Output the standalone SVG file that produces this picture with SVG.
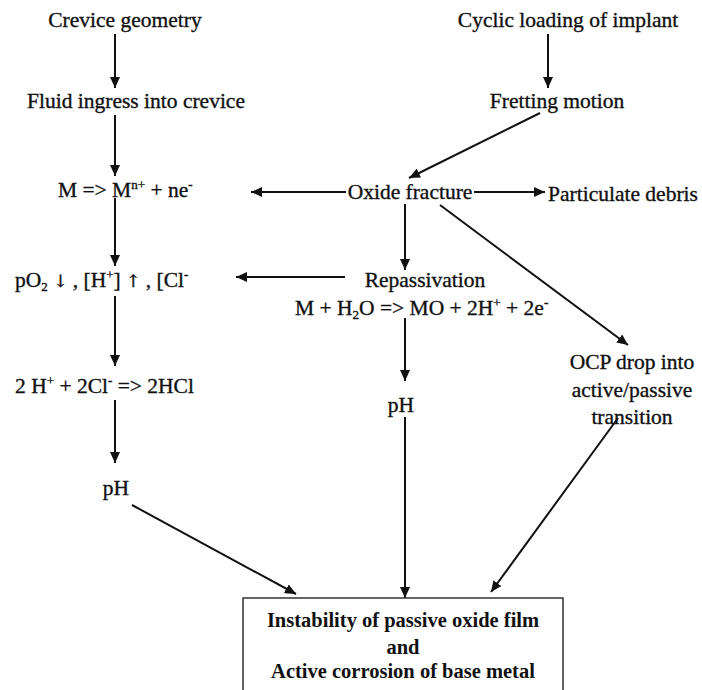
<svg xmlns="http://www.w3.org/2000/svg" width="702" height="690" viewBox="0 0 702 690">
<defs>
<marker id="ah" markerUnits="userSpaceOnUse" markerWidth="12" markerHeight="10" refX="11" refY="5" orient="auto">
<path d="M0,0 L11,5 L0,10 z" fill="#111"/>
</marker>
<style>
.t{font-family:"Liberation Serif","Times New Roman",serif;font-size:21.5px;fill:#111;stroke:#111;stroke-width:0.35}
.tc{text-anchor:middle}
.b{font-family:"Liberation Serif","Times New Roman",serif;font-size:20.5px;font-weight:bold;fill:#111;text-anchor:middle}
.sm{font-size:13px}
.ar{font-family:"DejaVu Serif","Liberation Serif",serif;font-size:17px}
.c{stroke:#111;stroke-width:2;fill:none}
.a{marker-end:url(#ah)}
</style>
</defs>
<rect width="702" height="690" fill="#fff"/>
<g id="connectors">
<line class="c a" x1="115" y1="34" x2="115" y2="88"/>
<line class="c a" x1="548" y1="34" x2="548" y2="88"/>
<line class="c a" x1="115" y1="115" x2="115" y2="176"/>
<line class="c a" x1="540" y1="113" x2="409" y2="178"/>
<line class="c a" x1="346" y1="192" x2="251" y2="192"/>
<line class="c a" x1="474" y1="192" x2="545" y2="192"/>
<line class="c a" x1="405" y1="204" x2="405" y2="270"/>
<line class="c a" x1="345" y1="277" x2="236" y2="277"/>
<line class="c a" x1="115" y1="198" x2="115" y2="266"/>
<line class="c a" x1="405" y1="318" x2="405" y2="381"/>
<line class="c a" x1="440" y1="205" x2="628" y2="345"/>
<line class="c a" x1="115" y1="296" x2="115" y2="366"/>
<line class="c a" x1="115" y1="400" x2="115" y2="463"/>
<line class="c a" x1="405" y1="417" x2="405" y2="598"/>
<line class="c a" x1="132" y1="505" x2="296" y2="594"/>
<line class="c a" x1="618" y1="418" x2="491" y2="592"/>
</g>
<g id="crevice"><text class="t tc" x="125" y="27">Crevice geometry</text></g>
<g id="cyclic"><text class="t tc" x="568" y="27">Cyclic loading of implant</text></g>
<g id="fluid"><text class="t tc" x="136" y="108">Fluid ingress into crevice</text></g>
<g id="fretting"><text class="t tc" x="557" y="108">Fretting motion</text></g>
<g id="dissolution"><text class="t" x="58" y="197">M =&gt; M<tspan class="sm" dy="-8">n+</tspan><tspan dy="8"> + ne</tspan><tspan class="sm" dy="-8">-</tspan></text></g>
<g id="oxide"><text class="t tc" x="410" y="199">Oxide fracture</text></g>
<g id="debris"><text class="t tc" x="623" y="201">Particulate debris</text></g>
<g id="repass"><text class="t tc" x="425" y="287">Repassivation</text>
<text class="t" x="295" y="315">M + H<tspan class="sm" dy="4">2</tspan><tspan dy="-4">O =&gt; MO + 2H</tspan><tspan class="sm" dy="-8">+</tspan><tspan dy="8"> + 2e</tspan><tspan class="sm" dy="-8">-</tspan></text></g>
<g id="conc"><text class="t" x="15" y="287">pO<tspan class="sm" dy="4">2</tspan><tspan dy="-4"> </tspan><tspan class="ar">↓</tspan><tspan> , [H</tspan><tspan class="sm" dy="-8">+</tspan><tspan dy="8">] </tspan><tspan class="ar">↑</tspan><tspan> , [Cl</tspan><tspan class="sm" dy="-8">-</tspan></text></g>
<g id="ocp"><text class="t tc" x="632" y="369">OCP drop into</text>
<text class="t tc" x="632" y="397">active/passive</text>
<text class="t tc" x="632" y="424">transition</text></g>
<g id="hcl"><text class="t" x="15" y="393">2 H<tspan class="sm" dy="-8">+</tspan><tspan dy="8"> + 2Cl</tspan><tspan class="sm" dy="-8">-</tspan><tspan dy="8"> =&gt; 2HCl</tspan></text></g>
<g id="ph-left"><text class="t tc" x="116" y="495">pH</text></g>
<g id="ph-mid"><text class="t tc" x="401" y="412">pH</text></g>
<g id="result">
<rect x="243" y="598" width="320" height="100" fill="#fff" stroke="#333" stroke-width="1.5"/>
<text class="b" x="403" y="627">Instability of passive oxide film</text>
<text class="b" x="403" y="654">and</text>
<text class="b" x="403" y="678">Active corrosion of base metal</text>
</g>
</svg>
